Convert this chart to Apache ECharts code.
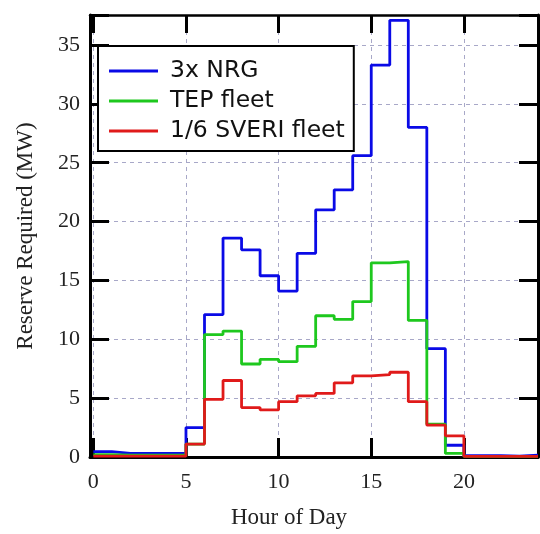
<!DOCTYPE html>
<html>
<head>
<meta charset="utf-8">
<script src="https://cdn.jsdelivr.net/npm/echarts@6/dist/echarts.min.js"></script>
<style>html,body{margin:0;padding:0;background:#fff;}#c{width:540px;height:534px;}</style>
</head>
<body>
<div id="c"></div>
<script>
// Hour-of-day bins (value at hour h holds from h to h+1)
const hours = [0,1,2,3,4,5,6,7,8,9,10,11,12,13,14,15,16,17,18,19,20,21,22,23];
const nrg3x = [0.45,0.3,0.3,0.3,0.3,2.5,12.1,18.6,17.6,15.4,14.1,17.3,21.0,22.7,25.6,33.3,37.1,28.0,9.2,1.0,0.12,0.12,0.08,0.15];
const tepFleet = [0.2,0.15,0.15,0.15,0.15,1.1,10.4,10.7,7.9,8.3,8.1,9.4,12.0,11.7,13.2,16.5,16.6,11.6,2.8,0.3,0.05,0.05,0.05,0.05];
const sveriFleet = [0.07,0.07,0.07,0.07,0.07,1.1,4.9,6.5,4.2,4.0,4.7,5.2,5.4,6.3,6.9,7.0,7.2,4.7,2.7,1.8,0.05,0.05,0.05,0.05];
const seriesNames = ['3x NRG','TEP fleet','1/6 SVERI fleet'];
const xTicks = [0,5,10,15,20];
const xLabel = 'Hour of Day';
const yLabel = 'Reserve Required (MW)';

function stairs(vals){
  const d = hours.map((h,i)=>[h, vals[i]]);
  d.push([hours[hours.length-1]+1, vals[vals.length-1]]);
  return d;
}
const colors = ['#0a0ae6','#1ec81e','#e01a1a'];
const serif = '"Liberation Serif","Times New Roman",serif';
const sans = '"DejaVu Sans",Arial,sans-serif';
const chart = echarts.init(document.getElementById('c'));
const gridLine = {show:true, lineStyle:{color:'#a8a8c8', type:[4,4], width:1}};
chart.setOption({
  animation:false,
  backgroundColor:'#fff',
  grid:{left:90, right:2, top:15, bottom:74, containLabel:false},
  legend:{
    orient:'vertical', left:98, top:46,
    backgroundColor:'#fff', borderColor:'#000', borderWidth:2,
    padding:[13,9,8,11],
    icon:'rect',
    itemWidth:49, itemHeight:3, itemGap:6,
    textStyle:{fontFamily:sans, fontSize:23.5, color:'#111', lineHeight:22, padding:[0,0,0,7]},
    data:seriesNames
  },
  xAxis:[{
    type:'value', min:-0.18, max:24,
    name:xLabel, nameLocation:'middle', nameGap:49,
    nameTextStyle:{fontFamily:serif, fontSize:23, color:'#222', padding:[0,50,0,0]},
    axisLine:{show:true, onZero:false, lineStyle:{color:'#000', width:3}},
    axisTick:{show:true, inside:true, length:19, customValues:xTicks, lineStyle:{color:'#000', width:3}},
    axisLabel:{customValues:xTicks, margin:14, fontFamily:serif, fontSize:22, color:'#222'},
    splitLine:gridLine
  },{
    type:'value', min:-0.18, max:24, position:'top',
    axisLine:{show:true, onZero:false, lineStyle:{color:'#000', width:2.5}},
    axisTick:{show:true, inside:true, length:18, customValues:xTicks, lineStyle:{color:'#000', width:3}},
    axisLabel:{show:false, customValues:xTicks},
    splitLine:{show:false}
  }],
  yAxis:[{
    type:'value', min:0, max:37.55, interval:5,
    name:yLabel, nameLocation:'middle', nameGap:53,
    nameTextStyle:{fontFamily:serif, fontSize:23, color:'#222'},
    axisLine:{show:true, onZero:false, lineStyle:{color:'#000', width:3}},
    axisTick:{show:true, inside:true, length:19, lineStyle:{color:'#000', width:3}},
    axisLabel:{margin:10, fontFamily:serif, fontSize:22, color:'#222',
      formatter:v=> (v%5===0 && v<=35) ? String(v) : ''},
    splitLine:gridLine
  },{
    type:'value', min:0, max:37.55, interval:5, position:'right',
    axisLine:{show:true, onZero:false, lineStyle:{color:'#000', width:3}},
    axisTick:{show:true, inside:true, length:19, lineStyle:{color:'#000', width:3}},
    axisLabel:{show:false},
    splitLine:{show:false}
  }],
  series:[nrg3x, tepFleet, sveriFleet].map((vals,i)=>({
    name:seriesNames[i], type:'line', step:'end',
    xAxisIndex:0, yAxisIndex:0,
    symbol:'none', data:stairs(vals),
    lineStyle:{color:colors[i], width:2.8},
    itemStyle:{color:colors[i]},
    z:2+i
  }))
});
</script>
</body>
</html>
